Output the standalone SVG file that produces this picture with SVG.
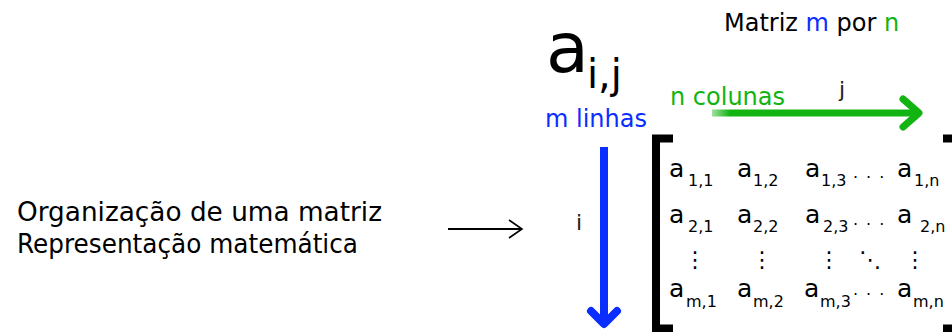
<svg xmlns="http://www.w3.org/2000/svg" width="952" height="332" viewBox="0 0 952 332">
<style>
text{font-family:"DejaVu Sans","Liberation Sans",sans-serif;fill:#000}
.lbl{font-size:26px}
.hd{font-size:24px}
.blue{fill:#0a2eff}
.green{fill:#12b412}
.el{font-size:25px}
.sub{font-size:16px}
.dots{font-size:16px;letter-spacing:8px}
.vd{font-size:22px}
.br{fill:none;stroke:#000;stroke-width:8}
</style>
<defs>
<linearGradient id="gfade" x1="712" y1="0" x2="730" y2="0" gradientUnits="userSpaceOnUse">
<stop offset="0" stop-color="#12b412" stop-opacity="0.4"/>
<stop offset="1" stop-color="#12b412"/>
</linearGradient>
<marker id="open" markerWidth="16" markerHeight="20" refX="14" refY="10" orient="auto" markerUnits="userSpaceOnUse">
<polyline points="1,1 14,10 1,19" fill="none" stroke="#000" stroke-width="1.6"/>
</marker>
</defs>

<g id="left-label">
<text class="lbl" x="17" y="221" textLength="365" lengthAdjust="spacingAndGlyphs">Organização de uma matriz</text>
<text class="lbl" x="17" y="253" textLength="341" lengthAdjust="spacingAndGlyphs">Representação matemática</text>
</g>

<g id="connectors">
<line x1="448" y1="229" x2="522" y2="229" stroke="#000" stroke-width="1.8" marker-end="url(#open)"/>
</g>

<g id="matrix-figure">
<text class="hd" x="724" y="31">Matriz <tspan class="blue">m</tspan> por <tspan class="green">n</tspan></text>
<text x="546" y="72" style="font-size:70px">a</text>
<text x="587" y="88" style="font-size:40px">i,j</text>
<text class="hd blue" x="545" y="127">m linhas</text>
<text class="hd green" x="670" y="105">n colunas</text>
<text x="839" y="97" style="font-size:22px;fill:#222">j</text>
<text x="576" y="230" style="font-size:22px;fill:#222">i</text>

<g id="arrow-rows">
<line x1="604" y1="147" x2="604" y2="320" stroke="#0a2eff" stroke-width="8"/>
<polyline points="591,311 604,324 617,311" fill="none" stroke="#0a2eff" stroke-width="8" stroke-linecap="round" stroke-linejoin="round"/>
</g>
<g id="arrow-cols">
<line x1="712" y1="113" x2="916" y2="113" stroke="url(#gfade)" stroke-width="7"/>
<polyline points="903,99 919,113 903,127" fill="none" stroke="#12b412" stroke-width="7" stroke-linecap="round" stroke-linejoin="round"/>
</g>

<g id="brackets">
<path class="br" d="M673,138.5 H656 V328.5 H673"/>
<path class="br" d="M943,138.5 H960 V328.5 H943"/>
</g>

<g id="entries">
<text class="el" x="669" y="177">a</text><text class="sub" x="688" y="186">1,1</text>
<text class="el" x="737" y="177">a</text><text class="sub" x="753" y="186">1,2</text>
<text class="el" x="805" y="177">a</text><text class="sub" x="821" y="186">1,3</text>
<text class="dots" x="853" y="178">...</text>
<text class="el" x="897" y="177">a</text><text class="sub" x="914" y="186">1,n</text>

<text class="el" x="669" y="223">a</text><text class="sub" x="688" y="232">2,1</text>
<text class="el" x="737" y="223">a</text><text class="sub" x="753" y="232">2,2</text>
<text class="el" x="805" y="223">a</text><text class="sub" x="823" y="232">2,3</text>
<text class="dots" x="853" y="225">...</text>
<text class="el" x="897" y="223">a</text><text class="sub" x="920" y="232">2,n</text>

<text class="vd" x="695" y="267" text-anchor="middle">⋮</text>
<text class="vd" x="762" y="267" text-anchor="middle">⋮</text>
<text class="vd" x="829" y="267" text-anchor="middle">⋮</text>
<text class="vd" x="870" y="267" text-anchor="middle">⋱</text>
<text class="vd" x="915" y="267" text-anchor="middle">⋮</text>

<text class="el" x="669" y="297">a</text><text class="sub" x="686" y="307">m,1</text>
<text class="el" x="737" y="297">a</text><text class="sub" x="753" y="307">m,2</text>
<text class="el" x="804" y="297">a</text><text class="sub" x="820" y="307">m,3</text>
<text class="dots" x="853" y="295">...</text>
<text class="el" x="897" y="297">a</text><text class="sub" x="913" y="307">m,n</text>
</g>
</g>
</svg>
